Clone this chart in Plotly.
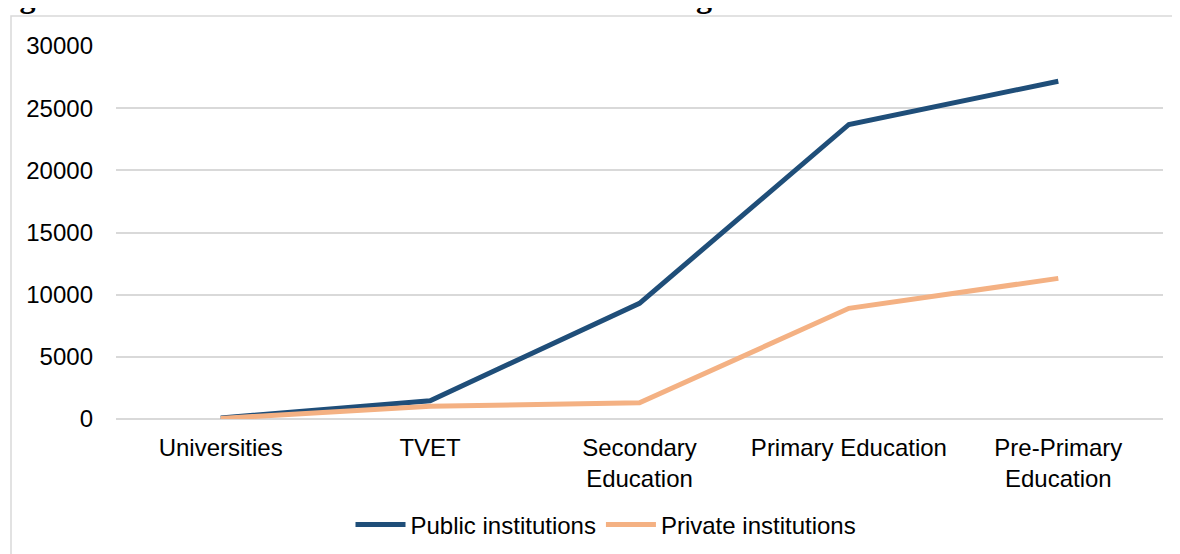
import plotly.graph_objects as go

categories = ["Universities", "TVET", "Secondary<br>Education", "Primary Education", "Pre-Primary<br>Education"]
public_institutions = [90, 1470, 9300, 23690, 27170]
private_institutions = [50, 1020, 1300, 8900, 11310]
y_ticks = [0, 5000, 10000, 15000, 20000, 25000, 30000]
y_tick_labels = [str(v) for v in y_ticks]

# the page body adds an 8px offset, so these are figure pixels
PLOT_L, PLOT_R, PLOT_T, PLOT_B = 108, 25, 38, 143
W, H = 1180, 554
pw = W - PLOT_L - PLOT_R
ph = H - PLOT_T - PLOT_B
base = H - PLOT_B  # pixel row of y = 0

fig = go.Figure()

fig.add_trace(go.Scatter(
    x=categories,
    y=public_institutions,
    mode="lines",
    name="Public institutions",
    line=dict(color="#1F4E79", width=5),
))
fig.add_trace(go.Scatter(
    x=categories,
    y=private_institutions,
    mode="lines",
    name="Private institutions",
    line=dict(color="#F4B183", width=5),
))

# outer frame of the chart box (runs off the right and bottom edges)
fig.add_shape(
    type="rect", xref="paper", yref="paper", layer="below",
    x0=(3 - PLOT_L) / pw, x1=(W + 40 - PLOT_L) / pw,
    y0=-(H + 40 - base) / ph, y1=(base - 8) / ph,
    line=dict(color="#d9d9d9", width=1.5),
)

# figure caption, cropped by the top edge
fig.add_annotation(
    text="<b>Figure 1: Public and Private Education and Training Institutions</b>",
    xref="paper", yref="paper",
    x=(870 - PLOT_L) / pw, xanchor="right",
    y=(base - 8) / ph, yanchor="bottom",
    showarrow=False,
    font=dict(family="Liberation Serif", size=32, color="#000000"),
)

fig.update_layout(
    width=W,
    height=H,
    margin=dict(l=PLOT_L, r=PLOT_R, t=PLOT_T, b=PLOT_B),
    paper_bgcolor="white",
    plot_bgcolor="white",
    font=dict(family="Liberation Sans, Arial", size=24, color="#000000"),
    showlegend=True,
    legend=dict(
        orientation="h",
        x=(606 - 8 - PLOT_L) / pw, xanchor="center",
        y=(base - 517) / ph, yanchor="middle",
        font=dict(size=24),
        itemwidth=50,
        tracegroupgap=0,
    ),
    xaxis=dict(
        range=[-0.5, 4.5],
        showgrid=False,
        showline=False,
        zeroline=False,
        ticks="",
        ticklabelstandoff=12,
        automargin=False,
    ),
    yaxis=dict(
        range=[0, 30000],
        tickvals=y_ticks,
        ticktext=y_tick_labels,
        showgrid=True,
        gridcolor="#d9d9d9",
        gridwidth=1.5,
        zeroline=True,
        zerolinecolor="#d9d9d9",
        zerolinewidth=1.5,
        showline=False,
        ticks="",
        ticklabelstandoff=22,
        automargin=False,
    ),
)

fig.write_html("out.html")
